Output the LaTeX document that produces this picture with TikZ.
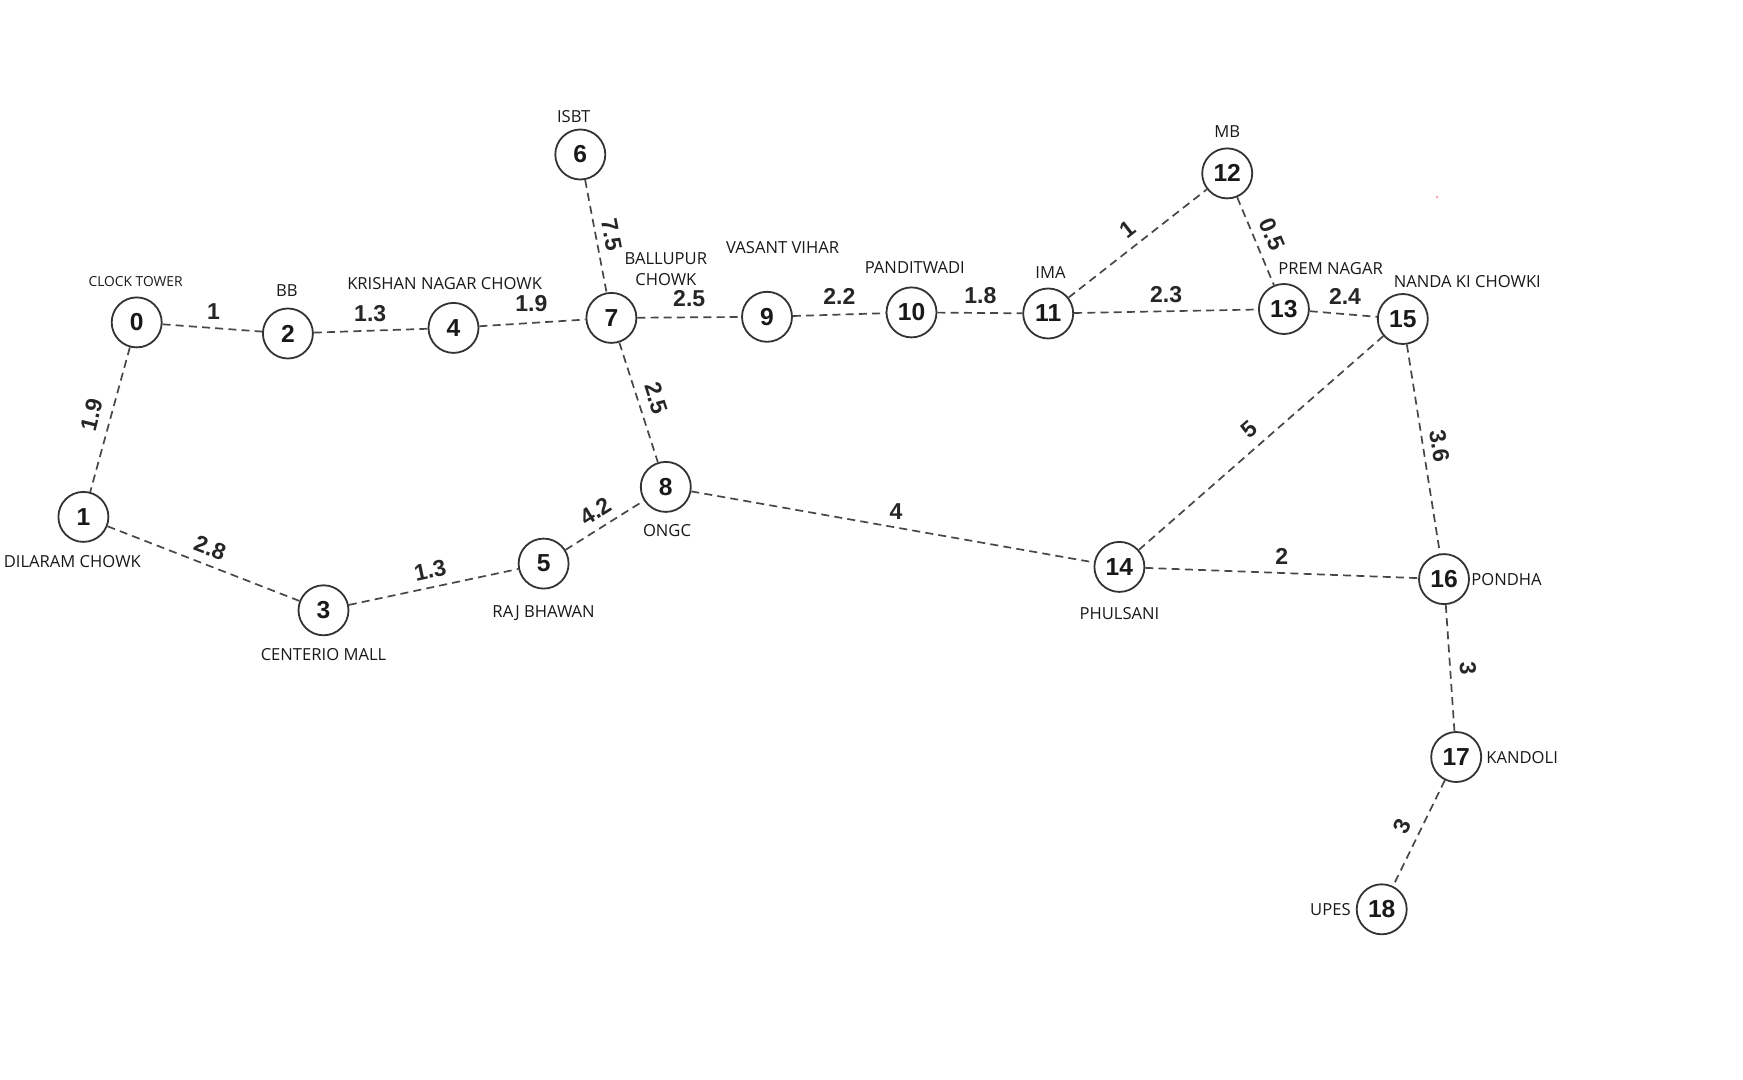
\documentclass[tikz,border=0pt]{standalone}
\usepackage{fontspec}
\setmainfont{Open Sans}
\newfontfamily\numfont{Liberation Sans}
\begin{document}
\begin{tikzpicture}[x=0.5pt,y=-0.5pt,
  station/.style={circle, draw=black!80, line width=0.9pt, minimum size=25pt, inner sep=0pt, fill=white,
    font=\numfont\bfseries\fontsize{12.3}{12}\selectfont, text=black!90},
  road/.style={draw=black!72, line width=0.85pt, dash pattern=on 4pt off 2.6pt},
  wt/.style={font=\numfont\bfseries\fontsize{11.5}{12}\selectfont, text=black!85, inner sep=0pt},
  place/.style={font=\fontsize{8.3}{10.3}\selectfont, inner sep=0pt, text=black!90, align=center},
  smallplace/.style={font=\fontsize{6.9}{8}\selectfont, inner sep=0pt, text=black!90}]
\fill[white] (0,0) rectangle (1743,1080);
\useasboundingbox (0,0) rectangle (1743,1080);

% stations
\node[station] (n0)  at (136.7,322.4) {0};
\node[station] (n1)  at (83.4,516.9) {1};
\node[station] (n2)  at (287.9,333.5) {2};
\node[station] (n3)  at (323.5,610.3) {3};
\node[station] (n4)  at (453.5,327.9) {4};
\node[station] (n5)  at (543.6,563.6) {5};
\node[station] (n6)  at (580.3,154.5) {6};
\node[station] (n7)  at (611.4,317.9) {7};
\node[station] (n8)  at (665.8,486.9) {8};
\node[station] (n9)  at (767.0,316.8) {9};
\node[station] (n10) at (911.5,312.4) {10};
\node[station] (n11) at (1048.2,313.5) {11};
\node[station] (n12) at (1227.2,173.4) {12};
\node[station] (n13) at (1283.9,309.0) {13};
\node[station] (n14) at (1119.4,566.9) {14};
\node[station] (n15) at (1402.8,319.0) {15};
\node[station] (n16) at (1444.0,579.1) {16};
\node[station] (n17) at (1456.2,757.0) {17};
\node[station] (n18) at (1381.7,909.3) {18};

% roads
\draw[road] (n0) -- (n2);
\draw[road] (n2) -- (n4);
\draw[road] (n4) -- (n7);
\draw[road] (n0) -- (n1);
\draw[road] (n1) -- (n3);
\draw[road] (n3) -- (n5);
\draw[road] (n5) -- (n8);
\draw[road] (n6) -- (n7);
\draw[road] (n7) -- (n8);
\draw[road] (n7) -- (n9);
\draw[road] (n9) -- (n10);
\draw[road] (n10) -- (n11);
\draw[road] (n11) -- (n12);
\draw[road] (n12) -- (n13);
\draw[road] (n11) -- (n13);
\draw[road] (n13) -- (n15);
\draw[road] (n8) -- (n14);
\draw[road] (n14) -- (n15);
\draw[road] (n14) -- (n16);
\draw[road] (n15) -- (n16);
\draw[road] (n16) -- (n17);
\draw[road] (n17) -- (n18);

% weights
\node[wt] (w02)   at (213.4,311.2) {1};
\node[wt] (w24)   at (370.2,313.5) {1.3};
\node[wt] (w47)   at (531.3,303.5) {1.9};
\node[wt,rotate=76] (w01) at (91.5,414.6) {1.9};
\node[wt,rotate=-21] (w13) at (210.1,548.0) {2.8};
\node[wt,rotate=12] (w35) at (430.2,570.3) {1.3};
\node[wt,rotate=32] (w58) at (595.8,511.3) {4.2};
\node[wt,rotate=-79] (w67) at (611.5,234.5) {7.5};
\node[wt,rotate=-72] (w78) at (656.5,398.0) {2.5};
\node[wt] (w79)   at (689.2,299.0) {2.5};
\node[wt] (w910)  at (839.3,296.8) {2.2};
\node[wt] (w1011) at (980.4,295.7) {1.8};
\node[wt,rotate=38] (w1112) at (1127.2,229.0) {1};
\node[wt,rotate=-67] (w1213) at (1272.5,234.5) {0.5};
\node[wt] (w1113) at (1166.1,294.6) {2.3};
\node[wt] (w1315) at (1345.0,296.8) {2.4};
\node[wt,rotate=41] (w1415) at (1249.4,429.1) {5};
\node[wt] (w814)  at (896.0,511.3) {4};
\node[wt] (w1416) at (1281.7,556.9) {2};
\node[wt,rotate=-81] (w1516) at (1439.5,445.8) {3.6};
\node[wt,rotate=-86] (w1617) at (1468.0,668.1) {3};
\node[wt,rotate=64] (w1718) at (1402.0,825.9) {3};

% place names
\node[smallplace] (p0) at (135.6,281.2) {CLOCK TOWER};
\node[place] (p2) at (286.8,290.1) {BB};
\node[place] (p4) at (444.6,283.5) {KRISHAN NAGAR CHOWK};
\node[place] (p1) at (72.3,561.4) {DILARAM CHOWK};
\node[place] (p3) at (323.5,654.7) {CENTERIO MALL};
\node[place] (p5) at (543.6,613.6) {RAJ BHAWAN};
\node[place] (p8) at (667.0,530.2) {ONGC};
\node[place] (p6) at (573.6,116.7) {ISBT};
\node[place] (p7) at (665.8,269.0) {BALLUPUR\\CHOWK};
\node[place] (p9) at (782.6,247.9) {VASANT VIHAR};
\node[place] (p10) at (914.8,267.9) {PANDITWADI};
\node[place] (p11) at (1050.5,272.3) {IMA};
\node[place] (p12) at (1227.2,131.2) {MB};
\node[place] (p13) at (1330.6,269.0) {PREM NAGAR};
\node[place] (p15) at (1467.3,281.2) {NANDA KI CHOWKI};
\node[place] (p14) at (1119.4,613.6) {PHULSANI};
\node[place,anchor=west] (p16) at (1471.0,580.0) {PONDHA};
\node[place,anchor=west] (p17) at (1486.0,758.0) {KANDOLI};
\node[place,anchor=east] (p18) at (1351.0,910.0) {UPES};

% stray dot
\fill[red!35] (1437,197) circle (1.5);
\end{tikzpicture}
\end{document}
